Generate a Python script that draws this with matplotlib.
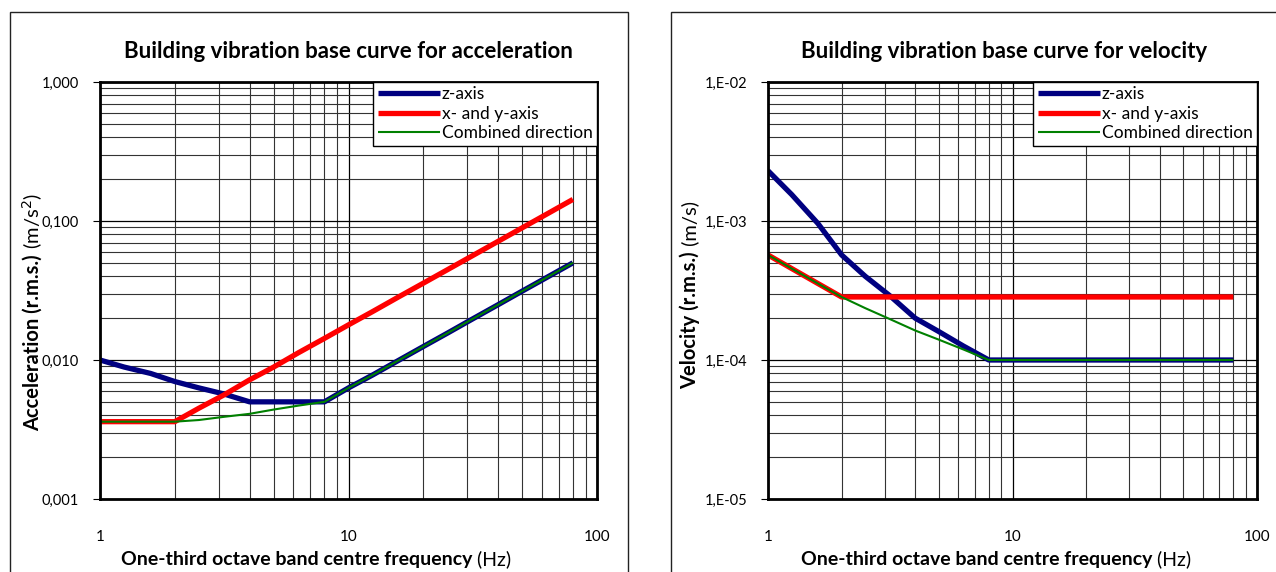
"""Building vibration base curves (acceleration and velocity), ISO 2631-2 style."""

import matplotlib
matplotlib.use("Agg")
import matplotlib.pyplot as plt
from matplotlib.patches import Rectangle
from matplotlib.ticker import FixedLocator, LogLocator, NullFormatter

plt.rcParams["font.family"] = ["Lato", "DejaVu Sans"]

# one-third octave band centre frequencies (Hz)
freq = [1, 1.25, 1.6, 2, 2.5, 3.15, 4, 5, 6.3, 8,
        10, 12.5, 16, 20, 25, 31.5, 40, 50, 63, 80]

# acceleration (m/s2)
acc_z = [0.0100, 0.0089, 0.0080, 0.0070, 0.0063, 0.0057, 0.0050, 0.0050, 0.0050, 0.0050,
         0.0063, 0.0078, 0.0100, 0.0125, 0.0156, 0.0197, 0.0250, 0.0313, 0.0394, 0.0500]
acc_xy = [0.0036, 0.0036, 0.0036, 0.0036, 0.0045, 0.0056, 0.0072, 0.0089, 0.0113, 0.0143,
          0.0179, 0.0223, 0.0286, 0.0357, 0.0446, 0.0562, 0.0714, 0.0893, 0.1125, 0.1430]
acc_comb = [0.0036, 0.0036, 0.0036, 0.0036, 0.0037, 0.0039, 0.0041, 0.0044, 0.0047, 0.0050,
            0.0063, 0.0078, 0.0100, 0.0125, 0.0156, 0.0197, 0.0250, 0.0313, 0.0394, 0.0500]

# velocity (m/s)
vel_z = [2.3e-3, 1.55e-3, 9.6e-4, 5.7e-4, 4.0e-4, 2.9e-4, 2.0e-4, 1.6e-4, 1.26e-4, 1.0e-4,
         1.0e-4, 1.0e-4, 1.0e-4, 1.0e-4, 1.0e-4, 1.0e-4, 1.0e-4, 1.0e-4, 1.0e-4, 1.0e-4]
vel_xy = [5.7e-4, 4.55e-4, 3.55e-4, 2.84e-4, 2.84e-4, 2.84e-4, 2.84e-4, 2.84e-4, 2.84e-4, 2.84e-4,
          2.84e-4, 2.84e-4, 2.84e-4, 2.84e-4, 2.84e-4, 2.84e-4, 2.84e-4, 2.84e-4, 2.84e-4, 2.84e-4]
vel_comb = [5.7e-4, 4.55e-4, 3.55e-4, 2.84e-4, 2.36e-4, 1.97e-4, 1.63e-4, 1.40e-4, 1.19e-4, 1.0e-4,
            1.0e-4, 1.0e-4, 1.0e-4, 1.0e-4, 1.0e-4, 1.0e-4, 1.0e-4, 1.0e-4, 1.0e-4, 1.0e-4]

series_names = ["z-axis", "x- and y-axis", "Combined direction"]
series_colors = ["#000080", "#FF0000", "#008000"]
series_widths = [3.8, 3.8, 1.5]

acc_ticks = [0.001, 0.01, 0.1, 1.0]
acc_ticklabels = ["0,001", "0,010", "0,100", "1,000"]
vel_ticks = [1e-5, 1e-4, 1e-3, 1e-2]
vel_ticklabels = ["1,E-05", "1,E-04", "1,E-03", "1,E-02"]

W, H = 1276, 572
fig = plt.figure(figsize=(W / 100, H / 100), dpi=100)


def px(x, y, w, h):
    """Pixel box (top-left origin) -> figure fraction rect."""
    return [x / W, 1 - (y + h) / H, w / W, h / H]


def draw_panel(rect, series, yticks, yticklabels, title, ylab_bold, ylab_rest,
               title_x, ylab_x, ylab_y, xlab_x):
    ax = fig.add_axes(rect)
    for vals, name, col, lw in zip(series, series_names, series_colors, series_widths):
        ax.plot(freq, vals, color=col, lw=lw, label=name, solid_capstyle="butt")

    ax.set_xscale("log")
    ax.set_yscale("log")
    ax.set_xlim(1, 100)
    ax.set_ylim(yticks[0], yticks[-1])

    ax.xaxis.set_major_locator(FixedLocator([1, 10, 100]))
    ax.set_xticklabels(["1", "10", "100"])
    ax.xaxis.set_minor_locator(LogLocator(base=10, subs=range(2, 10)))
    ax.xaxis.set_minor_formatter(NullFormatter())
    ax.yaxis.set_major_locator(FixedLocator(yticks))
    ax.set_yticklabels(yticklabels)
    ax.yaxis.set_minor_locator(LogLocator(base=10, subs=range(2, 10)))
    ax.yaxis.set_minor_formatter(NullFormatter())

    ax.grid(True, which="major", color="black", lw=0.9)
    ax.grid(True, which="minor", color="#333333", lw=0.8)
    ax.set_axisbelow(True)

    ax.tick_params(axis="x", which="both", length=0, pad=22, labelsize=11)
    ax.tick_params(axis="y", which="major", length=5, width=0.8, pad=10, labelsize=10.5)
    ax.tick_params(axis="y", which="minor", length=0)
    for sp in ax.spines.values():
        sp.set_linewidth(2)

    leg = ax.legend(loc="upper right", bbox_to_anchor=(1, 1), borderaxespad=0,
                    fancybox=False, edgecolor="black", framealpha=1,
                    fontsize=12.5, handlelength=3.6, handletextpad=0.1,
                    labelspacing=0.2, borderpad=0.25)
    leg.get_frame().set_linewidth(1.0)

    fig.text(title_x / W, 1 - 52 / H, title, ha="center", va="center",
             fontsize=16, fontweight="bold")

    fig.text(xlab_x / W, 1 - 559 / H, "One-third octave band centre frequency",
             ha="right", va="center", fontsize=14, fontweight="bold")
    fig.text(xlab_x / W, 1 - 559 / H, " (Hz)", ha="left", va="center", fontsize=14)

    # y label: bold part + normal part, centred together on ylab_y
    yl = fig.text(ylab_x / W, 1 - ylab_y / H, ylab_bold, ha="center", va="bottom",
                  rotation=90, fontsize=14.5, fontweight="bold")
    yr = ax.annotate(ylab_rest, xy=(0.5, 1), xycoords=yl, ha="center", va="bottom",
                     rotation=90, fontsize=14.5)
    fig.canvas.draw()
    b1 = yl.get_window_extent()
    b2 = yr.get_window_extent()
    total = b1.height + b2.height
    bottom_px = (H - ylab_y) - total / 2
    yl.set_y(bottom_px / H)
    return ax


draw_panel(px(100, 82, 497, 417), [acc_z, acc_xy, acc_comb], acc_ticks, acc_ticklabels,
           "Building vibration base curve for acceleration",
           "Acceleration (r.m.s.)", " (m/s$^2$)", 348, 33, 312, 472)
draw_panel(px(768, 82, 489, 417), [vel_z, vel_xy, vel_comb], vel_ticks, vel_ticklabels,
           "Building vibration base curve for velocity",
           "Velocity (r.m.s.)", " (m/s)", 1004, 690, 295, 1152)

# chart area borders
fig.patches.append(Rectangle((10 / W, -0.01), 618 / W, 1 - 12 / H + 0.01,
                             transform=fig.transFigure, fill=False,
                             edgecolor="#222222", lw=1.0))
fig.patches.append(Rectangle((671 / W, -0.01), 700 / W, 1 - 12 / H + 0.01,
                             transform=fig.transFigure, fill=False,
                             edgecolor="#222222", lw=1.0))

fig.savefig("out.png", dpi=100)
